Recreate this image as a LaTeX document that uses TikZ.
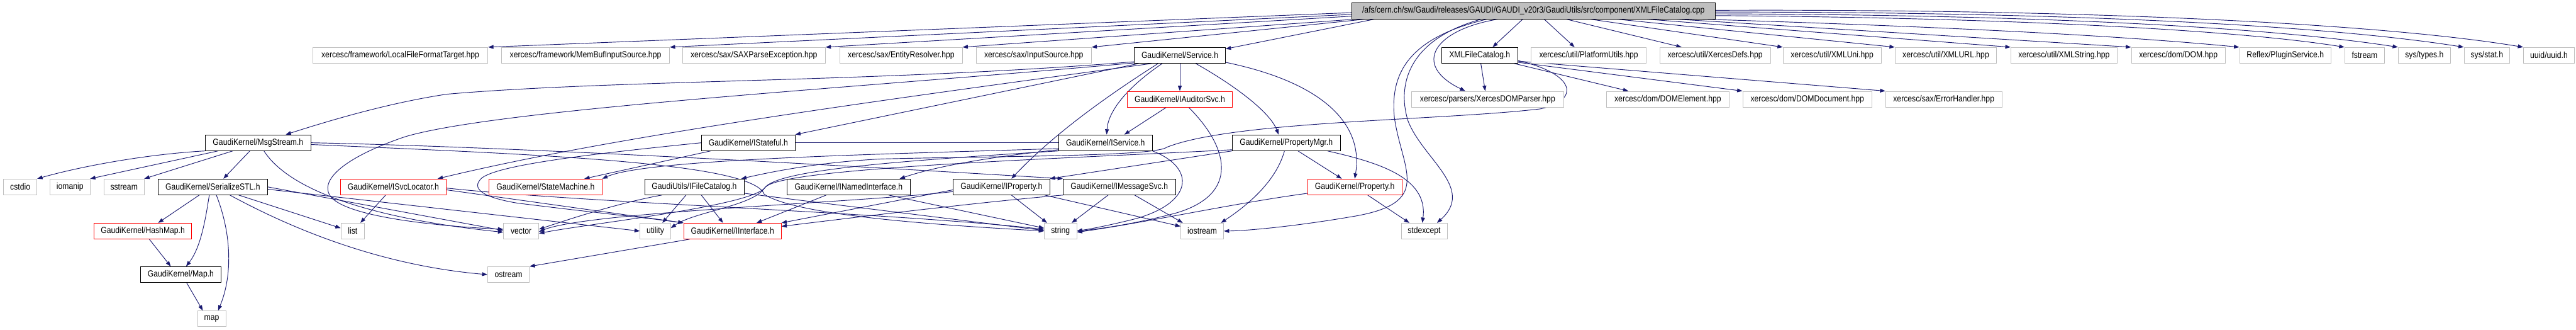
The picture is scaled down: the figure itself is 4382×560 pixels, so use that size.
\documentclass[tikz,border=0pt]{standalone}
\usepackage{fontspec}
\setmainfont{Liberation Sans}[FakeStretch=0.87]
\usetikzlibrary{arrows.meta,backgrounds}
\definecolor{midnight}{RGB}{25,25,112}
\definecolor{extgray}{RGB}{191,191,191}

\begin{document}
\begin{tikzpicture}[x=1pt, y=-1pt,
  every node/.style={rectangle, draw, fill=white, minimum height=27pt, inner sep=0pt, line width=0.8pt, font=\fontsize{15}{18}\selectfont},
  ext/.style={draw=extgray}, doc/.style={draw=black}, trunc/.style={draw=red},
  rootfile/.style={draw=black, fill=extgray},
  dep/.style={draw=midnight, line width=1pt, -{Triangle[length=9pt,width=6.5pt]}}]
  \useasboundingbox (0,0) rectangle (4382,560);

  % The file itself
  \node[rootfile, minimum width=618pt] (root) at (2608.5,18.5) {/afs/cern.ch/sw/Gaudi/releases/GAUDI/GAUDI\_v20r3/GaudiUtils/src/component/XMLFileCatalog.cpp};

  % First row of includes
  \node[ext, minimum width=298pt] (lfft) at (681,94) {xercesc/framework/LocalFileFormatTarget.hpp};
  \node[ext, minimum width=286pt] (membuf) at (996,94) {xercesc/framework/MemBufInputSource.hpp};
  \node[ext, minimum width=243pt] (saxex) at (1282.5,94) {xercesc/sax/SAXParseException.hpp};
  \node[ext, minimum width=208pt] (entres) at (1533,94) {xercesc/sax/EntityResolver.hpp};
  \node[ext, minimum width=196pt] (insrc) at (1758.5,94) {xercesc/sax/InputSource.hpp};
  \node[doc, minimum width=155pt] (service) at (2007,94) {GaudiKernel/Service.h};
  \node[doc, minimum width=129pt] (xmlfch) at (2517,94) {XMLFileCatalog.h};
  \node[ext, minimum width=196pt] (platf) at (2702.5,94) {xercesc/util/PlatformUtils.hpp};
  \node[ext, minimum width=188pt] (xdefs) at (2917.5,94) {xercesc/util/XercesDefs.hpp};
  \node[ext, minimum width=167pt] (xuni) at (3116.5,94) {xercesc/util/XMLUni.hpp};
  \node[ext, minimum width=173pt] (xurl) at (3310,94) {xercesc/util/XMLURL.hpp};
  \node[ext, minimum width=181pt] (xstr) at (3511,94) {xercesc/util/XMLString.hpp};
  \node[ext, minimum width=160pt] (dom) at (3705.5,94) {xercesc/dom/DOM.hpp};
  \node[ext, minimum width=156pt] (plugin) at (3887.5,94) {Reflex/PluginService.h};
  \node[ext, minimum width=68pt] (fstream) at (4022.4,94) {fstream};
  \node[ext, minimum width=89pt] (types) at (4124,94) {sys/types.h};
  \node[ext, minimum width=78pt] (stat) at (4230.4,94) {sys/stat.h};
  \node[ext, minimum width=87pt] (uuid) at (4336,94) {uuid/uuid.h};

  % Second row
  \node[trunc, minimum width=179pt] (audsvc) at (2007,168.5) {GaudiKernel/IAuditorSvc.h};
  \node[ext, minimum width=258pt] (domparser) at (2530.5,168.5) {xercesc/parsers/XercesDOMParser.hpp};
  \node[ext, minimum width=209pt] (domelem) at (2837,168.5) {xercesc/dom/DOMElement.hpp};
  \node[ext, minimum width=220pt] (domdoc) at (3074.4,168.5) {xercesc/dom/DOMDocument.hpp};
  \node[ext, minimum width=198pt] (errh) at (3306.5,168.5) {xercesc/sax/ErrorHandler.hpp};

  % Third row
  \node[doc, minimum width=180pt] (msgstream) at (439,242.5) {GaudiKernel/MsgStream.h};
  \node[doc, minimum width=159pt] (istateful) at (1273,242.5) {GaudiKernel/IStateful.h};
  \node[doc, minimum width=159pt] (iservice) at (1880.5,242.5) {GaudiKernel/IService.h};
  \node[doc, minimum width=184pt] (propmgr) at (2188,242.5) {GaudiKernel/PropertyMgr.h};

  % Fourth row
  \node[ext, minimum width=57pt] (cstdio) at (34.4,317.5) {cstdio};
  \node[ext, minimum width=68pt] (iomanip) at (119,317.5) {iomanip};
  \node[ext, minimum width=68pt] (sstream) at (211,317.5) {sstream};
  \node[doc, minimum width=186pt] (serstl) at (362,317.5) {GaudiKernel/SerializeSTL.h};
  \node[trunc, minimum width=180pt] (isvcloc) at (669,317.5) {GaudiKernel/ISvcLocator.h};
  \node[trunc, minimum width=192pt] (statemach) at (928,317.5) {GaudiKernel/StateMachine.h};
  \node[doc, minimum width=169pt] (ifilecat) at (1181,317.5) {GaudiUtils/IFileCatalog.h};
  \node[doc, minimum width=209pt] (inamed) at (1443.5,317.5) {GaudiKernel/INamedInterface.h};
  \node[doc, minimum width=164pt] (iprop) at (1703.5,317.5) {GaudiKernel/IProperty.h};
  \node[doc, minimum width=191pt] (imsgsvc) at (1904,317.5) {GaudiKernel/IMessageSvc.h};
  \node[trunc, minimum width=160pt] (prop) at (2304.5,317.5) {GaudiKernel/Property.h};

  % Fifth row
  \node[trunc, minimum width=166pt] (hashmap) at (243,392.5) {GaudiKernel/HashMap.h};
  \node[ext, minimum width=40pt] (list) at (600,392.5) {list};
  \node[ext, minimum width=60pt] (vector) at (886.5,392.5) {vector};
  \node[ext, minimum width=52pt] (utility) at (1114.7,392.5) {utility};
  \node[trunc, minimum width=166pt] (iinterface) at (1246,392.5) {GaudiKernel/IInterface.h};
  \node[ext, minimum width=55pt] (string) at (1804,392.5) {string};
  \node[ext, minimum width=73pt] (iostream) at (2045,392.5) {iostream};
  \node[ext, minimum width=78pt] (stdexcept) at (2422.5,392.5) {stdexcept};

  % Last rows
  \node[doc, minimum width=137pt] (mapH) at (307.5,466.5) {GaudiKernel/Map.h};
  \node[ext, minimum width=71pt] (ostream) at (865,466.5) {ostream};
  \node[ext, minimum width=48pt] (map) at (360,541.5) {map};

  \begin{scope}[on background layer]
  % From the cpp file
  \draw[dep] ([yshift=-3pt]root.west) -- (lfft.north east);
  \draw[dep] ([yshift=-6pt]root.west) -- (membuf.north east);
  \draw[dep] ([yshift=-9pt]root.west) -- (saxex.north east);
  \draw[dep] ([xshift=10pt]root.south west) -- (entres.north east);
  \draw[dep] ([xshift=25pt]root.south west) -- (insrc.north east);
  \draw[dep] ([xshift=40pt]root.south west) -- ([yshift=-3pt]service.north east);
  \draw[dep] ([xshift=-18pt]root.south) -- ([xshift=22pt]xmlfch.north);
  \draw[dep] ([xshift=18pt]root.south) -- ([xshift=-24pt]platf.north);
  \draw[dep] ([xshift=55pt]root.south) -- ([xshift=-57pt]xdefs.north);
  \draw[dep] ([xshift=95pt]root.south) -- (xuni.north west);
  \draw[dep] ([xshift=140pt]root.south) -- (xurl.north west);
  \draw[dep] ([xshift=190pt]root.south) -- (xstr.north west);
  \draw[dep] ([xshift=240pt]root.south) -- (dom.north west);
  \draw[dep] ([xshift=-30pt]root.south east) .. controls (3300,45) and (3600,60) .. (plugin.north west);
  \draw[dep] ([yshift=-8pt]root.east) .. controls (3400,30) and (3800,50) .. (fstream.north west);
  \draw[dep] ([yshift=-5pt]root.east) .. controls (3450,25) and (3850,45) .. (types.north west);
  \draw[dep] ([yshift=-2pt]root.east) .. controls (3500,20) and (3950,42) .. (stat.north west);
  \draw[dep] ([yshift=1pt]root.east) .. controls (3550,15) and (4050,40) .. (uuid.north west);
  \draw[dep] ([xshift=-59pt]root.south) .. controls (2440,50) and (2400,110) .. ([xshift=-38pt]domparser.north);
  \draw[dep] ([xshift=-88pt]root.south) .. controls (2400,65) and (2375,140) .. (2395,205) .. controls (2420,270) and (2510,320) .. ([xshift=22pt]stdexcept.north);
  \draw[dep] ([xshift=-78pt]root.south) .. controls (2390,65) and (2365,130) .. (2372,200) .. controls (2385,290) and (2440,345) .. (2300,368) .. controls (2200,385) and (2120,392) .. (iostream.east);

  % GaudiKernel/Service.h
  \draw[dep] ([yshift=3pt]service.south west) .. controls (1500,140) and (1050,135) .. (760,160) .. controls (660,175) and (560,205) .. ([xshift=47pt]msgstream.north);
  \draw[dep] ([yshift=1pt]service.south west) .. controls (1450,150) and (850,185) .. (690,232) .. controls (600,262) and (545,300) .. (560,330) .. controls (580,370) and (760,385) .. ([yshift=3pt]vector.west);
  \draw[dep] ([xshift=8pt]service.south west) -- (istateful.north east);
  \draw[dep] ([xshift=30pt]service.south west) .. controls (1500,170) and (1050,230) .. ([xshift=-15pt]isvcloc.north east);
  \draw[dep] ([xshift=-30pt]service.south) .. controls (1915,150) and (1885,190) .. ([xshift=2pt]iservice.north);
  \draw[dep] ([xshift=-37pt]service.south) .. controls (1880,165) and (1790,230) .. ([xshift=17pt]iprop.north);
  \draw[dep] (service) -- (audsvc);
  \draw[dep] ([xshift=27pt]service.south) .. controls (2100,145) and (2160,190) .. ([xshift=-13pt]propmgr.north);
  \draw[dep] ([yshift=2pt]service.south east) .. controls (2250,140) and (2320,210) .. (prop.north);

  % GaudiKernel/IAuditorSvc.h
  \draw[dep] ([xshift=-23pt]audsvc.south) -- ([xshift=32pt]iservice.north);
  \draw[dep] ([xshift=15pt]audsvc.south) .. controls (2090,250) and (2110,330) .. (2000,362) .. controls (1940,378) and (1880,388) .. (string.east);

  % XMLFileCatalog.h
  \draw[dep] ([xshift=2pt]xmlfch.south) -- ([xshift=-4pt]domparser.north);
  \draw[dep] ([xshift=-6pt]xmlfch.south east) -- ([xshift=-67pt]domelem.north);
  \draw[dep] ([yshift=2pt]xmlfch.south east) -- (domdoc.north west);
  \draw[dep] ([yshift=4pt]xmlfch.south east) -- (errh.north west);
  \draw[dep] ([yshift=5pt]xmlfch.south east) .. controls (2680,125) and (2690,170) .. (2620,185) .. controls (2450,205) and (2100,205) .. (1985,250) .. controls (1965,266) and (1700,265) .. (1500,270) .. controls (1400,275) and (1320,290) .. ([xshift=-5pt]ifilecat.north east);

  % GaudiKernel/MsgStream.h
  \draw[dep] (msgstream.south west) .. controls (250,262) and (140,282) .. (cstdio.north east);
  \draw[dep] ([xshift=-68pt]msgstream.south) -- (iomanip.north east);
  \draw[dep] ([xshift=-43pt]msgstream.south) -- (sstream.north east);
  \draw[dep] ([xshift=-14pt]msgstream.south) -- ([xshift=18pt]serstl.north);
  \draw[dep] ([xshift=10pt]msgstream.south) .. controls (490,320) and (620,370) .. ([yshift=-2pt]vector.west);
  \draw[dep] (msgstream.east) .. controls (900,250) and (1500,285) .. (imsgsvc.north west);
  \draw[dep] ([yshift=-3pt]msgstream.east) .. controls (900,262) and (1280,275) .. (1300,330) .. controls (1360,370) and (1650,385) .. (string.west);

  % GaudiKernel/IStateful.h and GaudiKernel/IService.h
  \draw[dep] ([xshift=-64pt]istateful.south) -- ([xshift=66pt]statemach.north);
  \draw[dep] (istateful.west) .. controls (1000,262) and (850,280) .. (820,302) .. controls (800,320) and (820,335) .. (880,345) .. controls (1000,360) and (1100,370) .. (iinterface.north west);
  \draw[dep, -] (istateful.east) -- (iservice.west);
  \draw[dep] ([yshift=2pt]iservice.south west) .. controls (1700,265) and (1600,280) .. ([xshift=-18pt]inamed.north east);
  \draw[dep] ([yshift=4pt]iservice.south west) .. controls (1500,262) and (1100,270) .. (statemach.north east);
  \draw[dep] (iservice.south west) .. controls (1500,275) and (1320,290) .. (1300,320) .. controls (1280,350) and (1180,360) .. ([yshift=5pt]utility.east);
  \draw[dep] (iservice.south east) .. controls (2035,285) and (2030,345) .. (1930,372) .. controls (1890,382) and (1860,388) .. (string.east);

  % GaudiKernel/PropertyMgr.h
  \draw[dep] ([xshift=20pt]propmgr.south) -- ([xshift=-22pt]prop.north);
  \draw[dep] ([xshift=70pt]propmgr.south) .. controls (2340,275) and (2430,300) .. ([xshift=-3pt]stdexcept.north);
  \draw[dep] ([xshift=-3pt]propmgr.south) .. controls (2170,310) and (2120,350) .. ([xshift=-5pt]iostream.north east);
  \draw[dep] (propmgr.south west) -- (iprop.north east);
  \draw[dep] ([yshift=2pt]propmgr.south west) .. controls (1800,270) and (1330,285) .. (1302,318) .. controls (1280,350) and (1000,380) .. ([yshift=-4pt]vector.east);

  % GaudiKernel/SerializeSTL.h and maps
  \draw[dep] ([xshift=-23pt]serstl.south) -- ([xshift=26pt]hashmap.north);
  \draw[dep] ([xshift=-6pt]serstl.south) .. controls (350,370) and (342,420) .. ([xshift=9pt]mapH.north);
  \draw[dep] ([xshift=6pt]serstl.south) .. controls (395,400) and (395,470) .. ([xshift=11pt]map.north);
  \draw[dep] ([xshift=44pt]serstl.south) -- ([yshift=5pt]list.west);
  \draw[dep] ([xshift=29pt]serstl.south) .. controls (490,385) and (640,450) .. (ostream.west);
  \draw[dep] (serstl.east) -- ([yshift=1pt]vector.west);
  \draw[dep] ([yshift=-4pt]serstl.east) -- (utility.west);
  \draw[dep] ([xshift=11pt]hashmap.south) -- ([xshift=-17pt]mapH.north);
  \draw[dep] ([xshift=10pt]mapH.south) -- ([xshift=-15pt]map.north);

  % GaudiKernel/ISvcLocator.h
  \draw[dep] ([xshift=-13pt]isvcloc.south) -- ([xshift=13pt]list.north);
  \draw[dep] ([yshift=-5pt]isvcloc.east) -- (iinterface.north west);
  \draw[dep] ([yshift=-2pt]isvcloc.east) .. controls (1000,345) and (1500,360) .. ([yshift=3pt]string.west);

  % GaudiUtils/IFileCatalog.h
  \draw[dep] ([xshift=-14pt]ifilecat.south) -- ([xshift=12pt]utility.north);
  \draw[dep] ([xshift=12pt]ifilecat.south) -- ([xshift=-16pt]iinterface.north);
  \draw[dep] ([xshift=-55pt]ifilecat.south) .. controls (1050,345) and (960,375) .. ([yshift=3pt]vector.east);
  \draw[dep] ([yshift=3pt]ifilecat.south east) -- ([yshift=1pt]string.west);

  % Interfaces
  \draw[dep] ([xshift=-38pt]inamed.south) -- ([xshift=41pt]iinterface.north);
  \draw[dep] ([xshift=68pt]inamed.south) -- ([yshift=5pt]string.west);
  \draw[dep] ([yshift=-5pt]iprop.west) -- (iinterface.north east);
  \draw[dep] ([xshift=17pt]iprop.south) -- ([xshift=5pt]string.north west);
  \draw[dep] ([xshift=-9pt]iprop.south east) -- ([yshift=8pt]iostream.west);
  \draw[dep] ([yshift=-8pt]iprop.west) .. controls (1450,345) and (1000,360) .. ([yshift=-1pt]vector.east);
  \draw[dep] ([xshift=-19pt]imsgsvc.south) -- ([xshift=19pt]string.north);
  \draw[dep] ([xshift=26pt]imsgsvc.south) -- ([xshift=-33pt]iostream.north);
  \draw[dep] (imsgsvc.south west) .. controls (1650,345) and (1450,370) .. ([yshift=8pt]iinterface.east);
  \draw[dep] ([xshift=22pt]prop.south) -- ([xshift=-25pt]stdexcept.north);
  \draw[dep] ([yshift=3pt]prop.south west) .. controls (2100,345) and (1950,378) .. ([yshift=-2pt]string.east);
  \draw[dep] ([xshift=-73pt]iinterface.south) -- (ostream.north east);
  \end{scope}
\end{tikzpicture}
\end{document}
